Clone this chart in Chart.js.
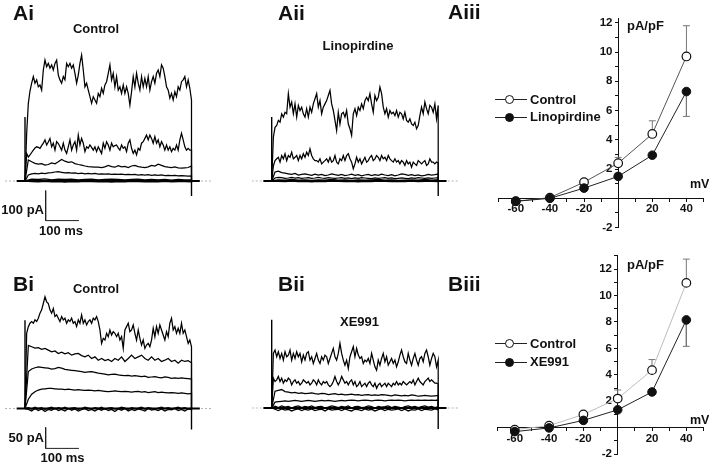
<!DOCTYPE html>
<html>
<head>
<meta charset="utf-8">
<script src="https://cdn.jsdelivr.net/npm/chart.js@4.4.1/dist/chart.umd.min.js"></script>
<style>
  body { margin: 0; background: #fff; }
  #fig { position: relative; width: 709px; height: 464px; overflow: hidden;
         font-family: "Liberation Sans", Arial, sans-serif; font-weight: bold; color: #111; }
  #fig canvas { position: absolute; left: 0; top: 0; }
  .t { position: absolute; white-space: nowrap; line-height: 1; }
  .lgline { position: absolute; height: 0; width: 32px; border-top: 1px solid #222; }
  .lgdot { position: absolute; width: 9px; height: 9px; box-sizing: border-box;
           border: 1.2px solid #111; border-radius: 50%; }
</style>
</head>
<body>
<div id="fig">
  <canvas id="ai" width="709" height="464"></canvas>
  <canvas id="aii" width="709" height="464"></canvas>
  <canvas id="aiii" width="709" height="464"></canvas>
  <canvas id="bi" width="709" height="464"></canvas>
  <canvas id="bii" width="709" height="464"></canvas>
  <canvas id="biii" width="709" height="464"></canvas>
</div>
<script>
// ---------------- data ----------------
// I-V curves (pA/pF) at each test potential (mV)
const testMV = [-60, -40, -20, 0, 20, 40];
const aControl = [-0.2, 0.05, 1.1, 2.4, 4.4, 9.7];
const aControlSem = [0, 0, 0, 0.4, 0.9, 2.1];
const linopirdine = [-0.2, 0.0, 0.7, 1.5, 2.95, 7.3];
const linopirdineSem = [0, 0, 0, 0, 0, 1.7];
const bControl = [-0.15, 0.15, 1.0, 2.2, 4.35, 10.95];
const bControlSem = [0, 0, 0, 0.65, 0.8, 1.8];
const xe991 = [-0.3, -0.02, 0.55, 1.35, 2.7, 8.15];
const xe991Sem = [0, 0, 0, 0, 0, 2.0];

// current traces (pA), sampled every 5 ms (noisy) or 10 / 20 ms (small steps), 500 ms pulse
const pulseMs = 500;
const holdMs = [-25, 525];
const aiTop = [0,159,259,300,326,348,326,337,314,320, 303,370,403,381,392,376,387,370,392,403,
  353,337,326,348,337,392,381,392,376,387, 359,326,353,392,420,370,314,326,303,281,
  259,281,270,259,292,281,309,292,320,331, 359,387,337,359,314,348,303,314,292,320,
  292,314,292,253,298,348,314,359,326,303, 348,314,342,314,348,303,331,348,326,359,
  370,348,387,376,348,314,303,276,292,270, 298,281,314,303,331,337,348,314,337,309, 270];
const aiSecond = [0,92,80,87,95,103,110,114,112,109, 118,126,137,120,130,142,114,126,103,131,
  125,114,103,126,103,92,114,137,103,120, 131,103,153,120,142,126,98,114,109,120,
  112,103,114,98,114,103,92,126,109,131, 120,103,126,114,118,120,110,103,120,109,
  114,98,126,137,109,92,103,87,109,103, 126,131,142,153,137,153,142,126,148,126,
  137,114,131,120,103,120,103,114,98,109, 103,120,103,137,159,137,114,103,109,103, 103];
const aiThird = [0,70,64,59,56,58,53,55,60,57, 64,72,66,62,64,58,55,53,50,48, 47,46,46,45,47,52,48,46,51,47,
  49,45,50,52,48,46,45,47,52,50, 56,52,48,46,45,47,44,43,44,45, 50];
const aiFourth = [0,20,24,25,24,26,25,27,28,30, 31,29,27,28,26,27,25,26,24,25, 24,25,23,24,23,24,22,23,22,23,
  21,22,21,22,20,21,20,21,19,20, 19,20,18,19,18,19,17,18,17,16, 17];
const aiLow1 = [0,6,5,7,4,6,5,6,4,5, 6,4,5,6,5,4,5,6,4,5, 4,5,3,5,4,4];
const aiLow2 = [0,-2,-3,-1,-3,-2,-4,-2,-3,-1, -2,-3,-2,-4,-2,-3,-1,-2,-3,-2, -3,-1,-3,-2,-2,-3];

const aiiTop = [0,146,179,185,202,196,224,213,229,224, 291,246,263,224,257,213,252,235,246,224,
  213,241,213,246,229,257,274,291,246,268, 224,246,257,268,285,302,257,235,202,168,
  229,190,224,229,213,235,190,174,152,224, 241,218,246,235,257,241,268,279,268,291,
  257,229,285,268,279,313,291,246,224,241, 213,235,224,229,218,235,213,229,224,207,
  229,202,196,207,190,185,196,174,185,218, 246,224,263,241,224,252,246,229,257,207, 252];
const aiiSecond = [0,50,68,74,79,63,85,74,91,68, 85,79,96,74,79,85,68,85,74,91,
  79,96,85,107,85,74,68,68,63,74, 57,63,68,74,63,79,63,68,85,63,
  57,74,68,85,68,85,91,74,63,41, 57,79,63,74,57,68,79,63,68,79,
  85,68,74,85,79,68,85,74,79,68, 85,74,68,63,74,63,68,57,68,63,
  52,68,57,63,46,63,57,52,68,63, 57,63,68,52,57,74,63,63,57,63, 60];
const aiiThird = [0,30,33,28,26,24,22,25,20,22, 24,21,19,23,20,22,18,20,24,21, 19,22,18,20,23,19,21,17,20,22,
  18,21,19,23,20,18,21,17,20,24, 22,19,21,18,20,17,19,22,20,21, 23];
const aiiFourth = [0,10,12,11,9,10,12,10,11,9, 10,11,9,10,12,10,9,11,10,9, 10,11,9,10,8,10,9,11,10,9,
  8,10,9,10,11,9,10,8,9,10, 9,8,10,9,11,10,9,10,9,10, 11];
const aiiLow1 = [0,4,3,5,3,4,2,4,3,5, 3,4,2,4,3,4,5,3,4,2, 3,4,3,5,3,4];
const aiiLow2 = [0,-1,-2,0,-2,-1,-3,-1,-2,0, -1,-2,-1,-3,-1,-2,0,-1,-2,-1, -2,0,-2,-1,-1,-2];

const biTop = [0,179,195,203,207,203,211,207,215,227, 235,250,266,254,250,235,227,238,219,223,
  215,207,219,211,215,203,211,207,215,203, 207,195,211,203,223,203,211,199,207,211,
  203,215,211,219,207,187,155,167,163,179, 171,187,175,183,179,171,179,163,171,143,
  187,195,203,183,187,199,179,163,187,167, 151,163,143,151,155,147,163,191,171,195,
  179,199,187,175,163,183,171,203,215,187, 195,179,191,179,203,179,187,171,155,163, 147];
const biSecond = [0,150,147,144,145,141,143,139,135,137, 131,134,130,133,127,130,131,126,123,127,
  119,123,115,119,114,117,112,119,115,123, 112,119,127,119,123,127,119,115,123,115,
  119,112,115,119,112,115,108,115,112,114, 109];
const biThird = [0,88,94,97,99,98,97,96,94,95, 98,96,93,92,91,90,89,88,86,87, 88,86,84,83,82,80,81,82,80,79,
  78,79,77,78,77,76,77,74,75,76, 74,73,75,74,72,73,72,73,72,71, 70];
const biFourth = [0,22,34,40,44,46,47,48,48,47, 46,46,45,46,45,44,45,44,43,44, 43,42,43,42,41,40,41,42,41,40,
  41,40,39,40,41,39,40,38,39,40, 38,39,38,37,38,37,36,37,36,35, 36];
const biLow1 = [0,-2,-6,0,-5,-1,-7,-2,-4,1, -5,-2,-6,0,-4,-1,-6,-3,0,-5, -2,-6,-1,-4,0,-5,-2,-7,-1,-4,
  0,-6,-2,-5,-1,-3,-6,0,-4,-2, -5,-1,-6,-2,-3,0,-5,-2,-6,-1, -3];
const biLow2 = [0,2,-1,3,0,2,-2,1,3,-1, 2,0,3,-1,1,2,-2,0,3,1, -1,2,0,3,-2,1,2,-1,0,3,
  1,-2,2,0,1,3,-1,2,0,-2, 1,3,0,2,-1,1,3,0,2,-1, 1];

const biiTop = [0,130,138,122,134,118,130,114,134,122, 126,138,114,130,118,134,122,130,110,126,
  114,130,134,114,122,106,118,130,114,106, 122,114,126,122,106,118,130,142,122,114,
  130,154,130,114,102,114,94,122,134,146, 122,142,126,118,122,106,114,110,118,106,
  130,114,98,90,114,102,118,130,110,122, 102,110,118,106,114,98,110,126,138,122,
  110,106,130,114,102,118,130,114,102,118, 122,110,130,138,122,102,118,130,122,98, 114];
const biiSecond = [0,71,63,67,75,63,71,59,67,63, 71,67,55,63,67,59,63,55,59,67,
  63,59,63,55,59,67,63,55,67,59, 55,63,59,63,55,51,55,63,75,63,
  55,63,75,67,59,63,55,63,67,55, 63,51,55,63,51,55,59,51,59,63,
  55,51,59,47,55,59,51,55,59,51, 59,55,51,59,55,63,55,59,55,63,
  59,55,59,63,59,67,55,63,71,63, 59,55,63,67,71,63,67,63,59,59, 57];
const biiThird = [0,40,42,44,39,38,36,37,35,36, 34,35,36,34,33,35,34,32,33,34, 32,33,31,32,33,31,32,30,31,32,
  30,31,30,32,31,30,29,31,30,29, 30,29,31,30,28,29,30,29,28,29, 30];
const biiFourth = [0,14,15,16,17,16,17,18,17,16, 17,18,17,16,17,18,17,18,17,16, 17,18,17,18,19,18,17,18,19,18,
  17,18,19,18,17,18,19,18,19,18, 17,18,19,18,19,18,19,18,19,18, 19];
const biiLow1 = [0,4,1,5,2,4,0,3,5,1, 4,2,5,1,3,4,0,2,5,3, 1,4,2,5,0,3,4,1,2,5,
  3,0,4,2,3,5,1,4,2,0, 3,5,2,4,1,3,5,2,4,1, 3];
const biiLow2 = [0,-3,-6,-2,-5,-3,-7,-4,-2,-6, -3,-5,-2,-6,-4,-3,-7,-2,-5,-4, -3,-6,-2,-5,-7,-3,-4,-6,-2,-5,
  -3,-7,-4,-2,-6,-3,-5,-4,-2,-6, -3,-7,-4,-5,-2,-6,-3,-4,-5,-2, -4];

// stimulus artefacts (pA): capacitive spike at onset, tail at offset
const aArtefact = [213, -50];
const bArtefact = [210, -50];

// ---------------- helpers ----------------
const W = 709, H = 464;
Chart.defaults.font.family = '"Liberation Sans", Arial, sans-serif';

function padFor(box) {
  return { left: box.l, top: box.t, right: W - box.r, bottom: H - box.b };
}

function toXY(values, stepMs) {
  const pts = values.map((v, i) => ({ x: i * stepMs, y: v }));
  pts.push({ x: pulseMs, y: 0 });
  return pts;
}

function line(data, extra) {
  return Object.assign({ data: data, borderColor: '#000', borderWidth: 1, pointRadius: 0, fill: false }, extra || {});
}

// ..................panneaux des courants........................
function tracePanel(id, px, traces, artefact, bar) {
  const xr = [-60, 560], yr = px.yr;
  const box = { l: px.x0 + px.kx * xr[0], r: px.x0 + px.kx * xr[1],
                t: px.y0 - px.ky * yr[1], b: px.y0 - px.ky * yr[0] };
  const sets = traces.map(tr => line(toXY(tr[0], tr[1]), { borderWidth: tr[2] || 1.25 }));
  sets.push(line([{ x: 0, y: 0 }, { x: 0, y: artefact[0] }], { borderWidth: 1.4 }));
  sets.push(line([{ x: pulseMs, y: 0 }, { x: pulseMs, y: artefact[1] }], { borderWidth: 1.4 }));
  sets.push(line([{ x: holdMs[0], y: 0 }, { x: holdMs[1], y: 0 }], { borderWidth: 2.2 }));
  if (bar) {
    sets.push(line([{ x: bar.x, y: bar.y + bar.pA }, { x: bar.x, y: bar.y }, { x: bar.x + bar.ms, y: bar.y }],
      { borderColor: '#222', borderWidth: 1 }));
  }
  sets.push(line([{ x: xr[0], y: 0 }, { x: xr[1], y: 0 }], { borderColor: '#b5b5b5', borderDash: [2, 2] }));

  new Chart(document.getElementById(id), {
    type: 'line',
    data: { datasets: sets },
    options: {
      responsive: false, animation: false, events: [],
      layout: { padding: padFor(box) },
      plugins: { legend: { display: false }, tooltip: { enabled: false } },
      elements: { line: { tension: 0 } },
      scales: {
        x: { type: 'linear', display: false, min: xr[0], max: xr[1] },
        y: { type: 'linear', display: false, min: yr[0], max: yr[1] }
      }
    }
  });
}

// ..................courbes I-V........................
function ivPanel(id, box, yMax, ctrl, ctrlSem, drug, drugSem, ctrlColor) {
  const pts = arr => testMV.map((v, i) => ({ x: v, y: arr[i] }));
  const sets = [
    line(pts(drug), { borderColor: '#222', pointRadius: 4.3, pointBackgroundColor: '#111',
                      pointBorderColor: '#111', pointBorderWidth: 1 }),
    line(pts(ctrl), { borderColor: ctrlColor, pointRadius: 4.3, pointBackgroundColor: '#fff',
                      pointBorderColor: '#111', pointBorderWidth: 1.2 })
  ];
  const errBar = (mean, sem, sign) => testMV.forEach((v, i) => {
    if (!sem[i]) return;
    sets.push(line([{ x: v, y: mean[i] }, { x: v, y: mean[i] + sign * sem[i] }],
      { borderColor: '#777', pointRadius: [0, 3.5], pointStyle: 'line',
        pointBorderColor: '#777', pointBorderWidth: 1 }));
  });
  errBar(ctrl, ctrlSem, 1);
  errBar(drug, drugSem, -1);

  const tickFont = { size: 11.5, weight: 'bold' };
  new Chart(document.getElementById(id), {
    type: 'line',
    data: { datasets: sets },
    options: {
      responsive: false, animation: false, events: [],
      layout: { padding: padFor(box) },
      plugins: { legend: { display: false }, tooltip: { enabled: false } },
      elements: { line: { tension: 0 } },
      scales: {
        x: {
          type: 'linear', min: -70, max: 50, position: { y: 0 },
          border: { color: '#111', width: 1 },
          grid: { drawOnChartArea: false, drawTicks: true, tickLength: 3, color: '#111' },
          ticks: { stepSize: 10, autoSkip: false, maxRotation: 0, padding: 1, color: '#111', font: tickFont,
                   callback: v => (v % 20 === 0 && v !== 0) ? String(v) : '' }
        },
        y: {
          type: 'linear', min: -2, max: yMax, position: { x: 0 },
          border: { color: '#111', width: 1 },
          grid: { drawOnChartArea: false, drawTicks: true, tickLength: 3, color: '#111' },
          ticks: { stepSize: 1, includeBounds: false, autoSkip: false, color: '#111', font: tickFont,
                   callback: v => (v % 2 === 0 && v !== 0) ? v + '\u2002' : '' }
        }
      }
    }
  });
}

// ..................textes et legendes........................
const fig = document.getElementById('fig');
function addText(str, x, y, size, align) {
  const d = document.createElement('div');
  d.className = 't';
  d.textContent = str;
  d.style.fontSize = size + 'px';
  d.style.top = (y - size / 2) + 'px';
  if (align === 'right') d.style.right = (W - x) + 'px';
  else d.style.left = x + 'px';
  if (align === 'center') d.style.transform = 'translateX(-50%)';
  fig.appendChild(d);
}
function addLegend(y, label, filled) {
  const l = document.createElement('div');
  l.className = 'lgline';
  l.style.left = '495px';
  l.style.top = y + 'px';
  fig.appendChild(l);
  const c = document.createElement('div');
  c.className = 'lgdot';
  c.style.left = '505px';
  c.style.top = (y - 4) + 'px';
  c.style.background = filled ? '#111' : '#fff';
  fig.appendChild(c);
  addText(label, 530, y, 13, 'left');
}

// ---------------- figure ----------------
const aPx = { x0: 25, y0: 181, kx: 0.333, ky: 0.3, yr: [-170, 600] };
const aiiPx = { x0: 271.7, y0: 181, kx: 0.333, ky: 0.3, yr: [-170, 600] };
const bPx = { x0: 25, y0: 408.5, kx: 0.333, ky: 0.42, yr: [-130, 420] };
const biiPx = { x0: 271.7, y0: 408, kx: 0.333, ky: 0.42, yr: [-130, 420] };

tracePanel('ai', aPx, [[aiTop, 5], [aiSecond, 5], [aiThird, 10], [aiFourth, 10], [aiLow1, 20, 1.3], [aiLow2, 20, 1.3]],
  aArtefact, { x: 62, y: -132, pA: 100, ms: 100 });
tracePanel('aii', aiiPx, [[aiiTop, 5], [aiiSecond, 5], [aiiThird, 10], [aiiFourth, 10], [aiiLow1, 20, 1.3], [aiiLow2, 20, 1.3]],
  aArtefact, null);
tracePanel('bi', bPx, [[biTop, 5], [biSecond, 10], [biThird, 10], [biFourth, 10], [biLow1, 10, 1.3], [biLow2, 10, 1.3]],
  bArtefact, { x: 62, y: -95, pA: 50, ms: 100 });
tracePanel('bii', biiPx, [[biiTop, 5], [biiSecond, 5], [biiThird, 10], [biiFourth, 10], [biiLow1, 10, 1.3], [biiLow2, 10, 1.3]],
  bArtefact, null);

ivPanel('aiii', { l: 498.7, r: 706.7, t: 18.4, b: 227.6 }, 12.3, aControl, aControlSem, linopirdine, linopirdineSem, '#555');
ivPanel('biii', { l: 497.6, r: 706.8, t: 255.8, b: 458.8 }, 13, bControl, bControlSem, xe991, xe991Sem, '#bdbdbd');

addText('Ai', 13, 12, 21, 'left');
addText('Control', 96, 28.5, 13, 'center');
addText('Aii', 278, 12, 21, 'left');
addText('Linopirdine', 358, 45, 13, 'center');
addText('Aiii', 448, 11.5, 21, 'left');
addText('pA/pF', 627, 25.7, 13, 'left');
addText('mV', 690, 184.5, 12.5, 'left');
addText('100 pA', 44, 209, 13, 'right');
addText('100 ms', 61, 230.5, 13, 'center');

addText('Bi', 13, 283, 21, 'left');
addText('Control', 96, 288, 13, 'center');
addText('Bii', 278, 283, 21, 'left');
addText('XE991', 359.5, 321.7, 13, 'center');
addText('Biii', 448, 283, 21, 'left');
addText('pA/pF', 627, 264, 13, 'left');
addText('mV', 690, 420, 12.5, 'left');
addText('50 pA', 44, 437.5, 13, 'right');
addText('100 ms', 62.5, 457.5, 13, 'center');

addLegend(99, 'Control', false);
addLegend(116.7, 'Linopirdine', true);
addLegend(343.3, 'Control', false);
addLegend(361.7, 'XE991', true);
</script>
</body>
</html>
